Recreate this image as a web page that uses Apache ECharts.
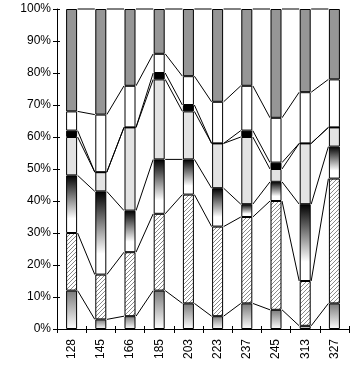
<!DOCTYPE html>
<html>
<head>
<meta charset="utf-8">
<script src="https://cdn.jsdelivr.net/npm/echarts@6/dist/echarts.min.js"></script>
<style>html,body{margin:0;padding:0;background:#fff;}#c{width:356px;height:370px;}</style>
</head>
<body>
<div id="c"></div>
<script>
var categories = ['128','145','166','185','203','223','237','245','313','327'];
var yTicks = [0,10,20,30,40,50,60,70,80,90,100];
var s1 = [12, 3, 4,12, 8, 4, 8, 6, 1, 8];
var s2 = [18,14,20,24,34,28,27,34,14,39];
var s3 = [18,26,13,17,11,12, 4, 6,24,10];
var s4 = [12, 6,26,25,15,14,21, 4,19, 6];
var s5 = [ 2, 0, 0, 2, 2, 0, 2, 2, 0, 0];
var s6 = [ 6,18,13, 6, 9,13,14,14,16,15];
var s7 = [32,33,24,14,21,29,24,34,26,22];

var seriesData = [s1,s2,s3,s4,s5,s6,s7];

function hatch(){
  var c = document.createElement('canvas');
  c.width = 4; c.height = 4;
  var g = c.getContext('2d');
  g.fillStyle = '#fff'; g.fillRect(0,0,4,4);
  g.strokeStyle = '#8a8a8a'; g.lineWidth = 1;
  g.beginPath();
  g.moveTo(-1,5); g.lineTo(5,-1);
  g.moveTo(-1,1); g.lineTo(1,-1);
  g.moveTo(3,5); g.lineTo(5,3);
  g.stroke();
  return c;
}

var fills = [
  {type:'linear',x:0,y:0,x2:0,y2:1,colorStops:[{offset:0,color:'#7a7a7a'},{offset:1,color:'#ffffff'}]},
  {image: hatch(), repeat:'repeat'},
  {type:'linear',x:0,y:0,x2:0,y2:1,colorStops:[{offset:0,color:'#000000'},{offset:0.75,color:'#ffffff'},{offset:1,color:'#ffffff'}]},
  '#e3e3e3',
  '#000000',
  '#ffffff',
  '#969696'
];

// cumulative levels
var cum = [];
var run = categories.map(function(){return 0;});
seriesData.forEach(function(arr){
  run = run.map(function(v,i){return v+arr[i];});
  cum.push(run.slice());
});

var barW = 11;
var series = seriesData.map(function(arr,k){
  return {
    type:'bar', stack:'a', data: arr, barWidth: barW,
    itemStyle:{color: fills[k], borderColor:'#000', borderWidth:1},
    emphasis:{disabled:true}, animation:false
  };
});

series.push({
  type:'custom',
  data: categories.slice(0,-1).map(function(c,i){return [i];}),
  encode:{x:0},
  z: 5,
  animation:false,
  renderItem: function(params, api){
    var i = api.value(0);
    var half = barW/2 + 0.5;
    var children = cum.map(function(lv){
      var p1 = api.coord([i, lv[i]]);
      var p2 = api.coord([i+1, lv[i+1]]);
      return {type:'line', shape:{x1:p1[0]+half, y1:p1[1], x2:p2[0]-half, y2:p2[1]},
        style:{stroke:'#000', lineWidth:1}};
    });
    return {type:'group', children: children};
  }
});

var font = 'Arial, "Liberation Sans", sans-serif';
var chart = echarts.init(document.getElementById('c'));
chart.setOption({
  animation:false,
  grid:{left:57, right:7, top:9, bottom:41},
  xAxis:[{
    type:'category', data: categories, position:'bottom',
    axisLine:{lineStyle:{color:'#000',width:1}},
    axisTick:{show:true,length:4,lineStyle:{color:'#000'}},
    axisLabel:{rotate:90, color:'#000', fontSize:12, fontFamily:font, margin:10}
  },{
    type:'category', data: categories, position:'bottom', gridIndex:0,
    axisLine:{show:false},
    axisTick:{show:true,inside:true,length:3,lineStyle:{color:'#000'}},
    axisLabel:{show:false}
  }],
  yAxis:[{
    type:'value', min:0, max:100, interval:10,
    axisLine:{show:true,lineStyle:{color:'#000'}},
    axisTick:{show:true,length:4,lineStyle:{color:'#000'}},
    splitLine:{show:false},
    axisLabel:{formatter:'{value}%', color:'#000', fontSize:12, fontFamily:font, margin:6}
  },{
    type:'value', min:0, max:100, interval:10, position:'left',
    axisLine:{show:false},
    axisTick:{show:true,inside:true,length:3,lineStyle:{color:'#000'}},
    splitLine:{show:false},
    axisLabel:{show:false}
  }],
  series: series
});
</script>
</body>
</html>
